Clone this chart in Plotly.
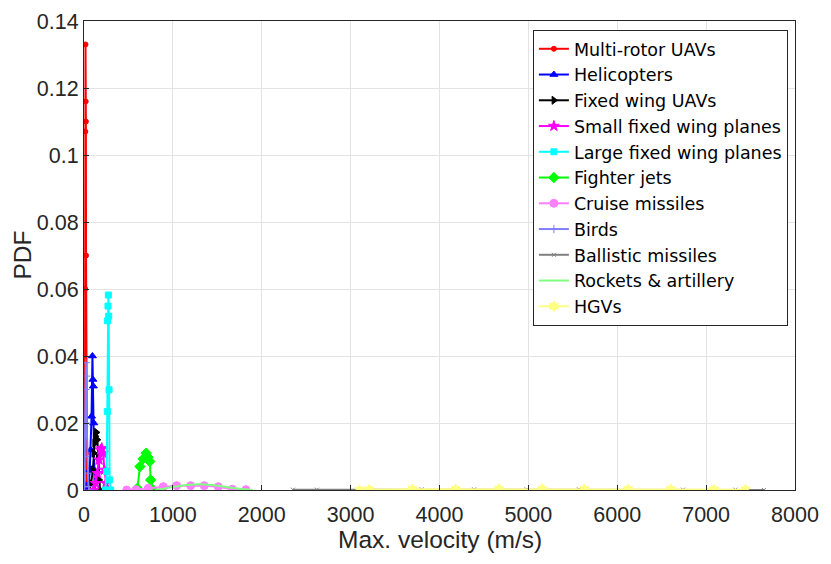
import plotly.graph_objects as go

# ---- data (velocity in m/s, PDF values) ----
names = ["Multi-rotor UAVs", "Helicopters", "Fixed wing UAVs", "Small fixed wing planes",
         "Large fixed wing planes", "Fighter jets", "Cruise missiles", "Birds",
         "Ballistic missiles", "Rockets & artillery", "HGVs"]

multirotor_x = [5, 10, 13, 15, 17, 19, 21, 23, 26, 30, 35]
multirotor_y = [0, 0.009, 0.060, 0.107, 0.133, 0.116, 0.110, 0.070, 0.011, 0.002, 0]

heli_x = [40, 55, 65, 75, 85, 95, 100, 105, 110, 115, 120]
heli_y = [0, 0.002, 0.006, 0.012, 0.022, 0.040, 0.033, 0.031, 0.020, 0.006, 0]

fwuav_x = [60, 80, 100, 110, 120, 130, 140, 150, 160, 170, 180]
fwuav_y = [0, 0.002, 0.006, 0.011, 0.014, 0.016, 0.0172, 0.015, 0.010, 0.003, 0]

small_x = [110, 130, 150, 170, 185, 200, 215, 230, 245, 260]
small_y = [0, 0.002, 0.005, 0.009, 0.012, 0.0125, 0.011, 0.006, 0.002, 0]

large_x = [240, 255, 262, 266, 270, 274, 278, 282, 288, 300]
large_y = [0, 0.0055, 0.0234, 0.0505, 0.0549, 0.0582, 0.0519, 0.0299, 0.003, 0]

fighter_x = [600, 630, 665, 700, 720, 740, 750, 780]
fighter_y = [0.0005, 0.007, 0.0093, 0.011, 0.0098, 0.0085, 0.003, 0]

cruise_x = [480, 585, 723, 892, 1042, 1200, 1353, 1511, 1669, 1822]
cruise_y = [0, 0.0001, 0.0005, 0.001, 0.0013, 0.0013, 0.0013, 0.001, 0.0002, 0.0001]

birds_x = [5, 10, 15, 20, 25, 30, 40, 50, 60]
birds_y = [0.001, 0.010, 0.030, 0.038, 0.034, 0.020, 0.005, 0.001, 0]

ballistic_x = [2350, 2620, 3210, 3800, 4390, 4980, 5570, 6120, 6740, 7330, 7650]
ballistic_y = [0.0001, 0.0001, 0.0001, 0.0002, 0.0002, 0.0002, 0.0002, 0.0002, 0.0001, 0.0001, 0]

rockets_x = [800, 900, 1000, 1100, 1200, 1300, 1400, 1500, 1600, 1700, 1800, 1900]
rockets_y = [0, 0.0004, 0.0009, 0.0013, 0.0016, 0.0017, 0.0016, 0.0013, 0.0009, 0.0005, 0.0002, 0]

hgv_x = [3100, 3210, 3696, 4181, 4668, 5156, 5628, 6123, 6603, 7087, 7443]
hgv_y = [0, 0.0001, 0.0002, 0.0002, 0.0003, 0.0003, 0.0002, 0.0002, 0.0002, 0.0001, 0.0001]

x_ticks = [0, 1000, 2000, 3000, 4000, 5000, 6000, 7000, 8000]
y_ticks = [0, 0.02, 0.04, 0.06, 0.08, 0.1, 0.12, 0.14]
y_ticktext = ["0", "0.02", "0.04", "0.06", "0.08", "0.1", "0.12", "0.14"]

series = [
    (multirotor_x, multirotor_y, "#FF0000", "circle", 5),
    (heli_x, heli_y, "#0000FF", "triangle-up", 7),
    (fwuav_x, fwuav_y, "#000000", "triangle-right", 7),
    (small_x, small_y, "#FF00FF", "star", 8),
    (large_x, large_y, "#00FFFF", "square", 6),
    (fighter_x, fighter_y, "#00FF00", "diamond", 8),
    (cruise_x, cruise_y, "#FF80FF", "circle", 8),
    (birds_x, birds_y, "#8080FF", "cross-thin-open", 6),
    (ballistic_x, ballistic_y, "#808080", "x-thin-open", 4),
    (rockets_x, rockets_y, "#80FF80", None, 0),
    (hgv_x, hgv_y, "#FFFF80", "hexagram", 8),
]

fig = go.Figure()
for name, (xs, ys, col, sym, sz) in zip(names, series):
    if sym is None:
        fig.add_trace(go.Scatter(x=xs, y=ys, mode="lines", name=name,
                                 line=dict(color=col, width=2), line_shape="spline"))
    else:
        fig.add_trace(go.Scatter(x=xs, y=ys, mode="lines+markers", name=name,
                                 line=dict(color=col, width=2),
                                 marker=dict(symbol=sym, size=sz, color=col,
                                             line=dict(color=col, width=1))))

FONT = "Liberation Sans, Arial, sans-serif"

# page body has an 8px margin, so the figure is 8px smaller than the window
fig.update_layout(
    width=823, height=556,
    margin=dict(l=76, r=36, t=13, b=74),
    paper_bgcolor="white", plot_bgcolor="white",
    font=dict(family=FONT, size=21.5, color="#262626"),
    showlegend=True,
    legend=dict(x=0.99, y=0.981, xanchor="right", yanchor="top",
                bgcolor="white", bordercolor="#262626", borderwidth=1,
                font=dict(family="DejaVu Sans, sans-serif", size=17.5, color="#000000"),
                tracegroupgap=0),
)
fig.update_xaxes(range=[0, 8000], tickvals=x_ticks, ticks="inside", ticklen=5,
                 tickcolor="#262626", showline=True, mirror=True, linecolor="#262626",
                 linewidth=1, showgrid=True, gridcolor="#e3e3e3", zeroline=False,
                 automargin=False, ticklabelstandoff=5)
fig.update_yaxes(range=[0, 0.14], tickvals=y_ticks, ticktext=y_ticktext, ticks="inside",
                 ticklen=5, tickcolor="#262626", showline=True, mirror=True,
                 linecolor="#262626", linewidth=1, showgrid=True, gridcolor="#e3e3e3",
                 zeroline=False, automargin=False)

# axis titles placed as annotations so they sit where the MATLAB ones do
fig.add_annotation(text="Max. velocity (m/s)", xref="paper", yref="paper",
                   x=0.5, y=-0.1045, xanchor="center", yanchor="middle",
                   showarrow=False, borderpad=0, font=dict(size=24.5, color="#262626"))
fig.add_annotation(text="PDF", xref="paper", yref="paper", textangle=-90,
                   x=-0.0872, y=0.5, xanchor="center", yanchor="middle",
                   showarrow=False, borderpad=0, font=dict(size=24.5, color="#262626"))

fig.write_html("out.html")
